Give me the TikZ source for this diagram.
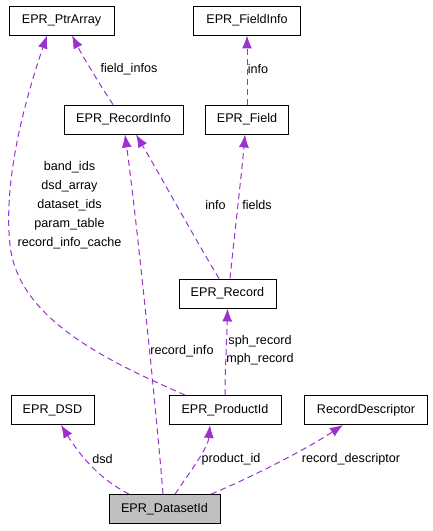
\documentclass[tikz,border=0pt]{standalone}
\usepackage{fontspec}
\setmainfont{Liberation Sans}
\usetikzlibrary{arrows.meta}
\definecolor{relcol}{HTML}{9A32CD}
\tikzset{
	cls/.style={draw=black, line width=0.9pt, minimum height=29pt, inner xsep=11pt, inner ysep=0pt, font=\fontsize{12.6}{15}\selectfont},
	rel/.style={draw=relcol, line width=1pt, dash pattern=on 6pt off 4pt, -{Latex[length=13pt,width=10pt]}},
	lbl/.style={font=\fontsize{12.6}{15}\selectfont, inner sep=0pt, align=center}
}

\begin{document}
\begin{tikzpicture}[x=1pt, y=-1pt]
		%%%%% START %%%%%
		\useasboundingbox (0, 0) rectangle (433, 531);
		
		\node[cls, minimum width=105pt] (ptrarray) at (61.5, 20.5) {EPR\_PtrArray};
		\node[cls, minimum width=107pt] (fieldinfo) at (247, 20.5) {EPR\_FieldInfo};
		\node[cls, minimum width=119pt] (recordinfo) at (123.5, 119.5) {EPR\_RecordInfo};
		\node[cls, minimum width=83pt] (field) at (247, 119.5) {EPR\_Field};
		\node[cls, minimum width=97pt] (record) at (227.5, 293.5) {EPR\_Record};
		\node[cls, minimum width=83pt] (dsd) at (52.5, 410) {EPR\_DSD};
		\node[cls, minimum width=112pt] (productid) at (225, 410) {EPR\_ProductId};
		\node[cls, minimum width=123pt] (recdesc) at (366, 410) {RecordDescriptor};
		\node[cls, minimum width=111pt, fill=black!25] (datasetid) at (164.5, 509) {EPR\_DatasetId};
		
		% labels
		\node[lbl] (l-fieldinfos) at (129, 69) {field\_infos};
		\node[lbl] (l-info1) at (258, 69) {info};
		\node[lbl] (l-ptr) at (69.5, 205.5) {band\_ids\\[4pt]dsd\_array\\[4pt]dataset\_ids\\[4pt]param\_table\\[4pt]record\_info\_cache};
		\node[lbl] (l-info2) at (215.5, 205) {info};
		\node[lbl] (l-fields) at (257, 205) {fields};
		\node[lbl] (l-recinfo) at (182, 351) {record\_info};
		\node[lbl] (l-sph) at (260, 341) {sph\_record};
		\node[lbl] (l-mph) at (260, 359.5) {mph\_record};
		\node[lbl] (l-dsd) at (102.5, 459) {dsd};
		\node[lbl] (l-prodid) at (231, 459) {product\_id};
		\node[lbl] (l-recdesc) at (351, 459) {record\_descriptor};
		
		% relations
		\draw[rel] ([xshift=-35.5pt]datasetid.north) .. controls (105, 482) and (84, 462) .. ([xshift=8.5pt]dsd.south);
		\draw[rel] ([xshift=10.5pt]datasetid.north) .. controls (190, 472) and (208, 448) .. ([xshift=-15pt]productid.south);
		\draw[rel] ([xshift=46.5pt]datasetid.north) .. controls (250, 478) and (305, 450) .. ([xshift=-23pt]recdesc.south);
		\draw[rel] ([xshift=-1.5pt]datasetid.north) .. controls (158, 430) and (138, 230) .. ([xshift=1.5pt]recordinfo.south);
		\draw[rel] (productid.north) .. controls (225, 370) and (227, 335) .. (record.south);
		\draw[rel] ([xshift=-40pt]productid.north) .. controls (110, 362) and (18, 320) .. (10, 245) .. controls (3, 180) and (25, 100) .. ([xshift=-14.5pt]ptrarray.south);
		\draw[rel] ([xshift=-8.5pt]record.north) .. controls (190, 230) and (160, 175) .. ([xshift=12.5pt]recordinfo.south);
		\draw[rel] ([xshift=2.5pt]record.north) .. controls (235, 230) and (242, 170) .. ([xshift=-2pt]field.south);
		\draw[rel] ([xshift=-10.5pt]recordinfo.north) .. controls (100, 85) and (82, 55) .. ([xshift=10.5pt]ptrarray.south);
		\draw[rel] (field.north) -- (fieldinfo.south);
		
		%%%%% END %%%%%
	\end{tikzpicture}
\end{document}
